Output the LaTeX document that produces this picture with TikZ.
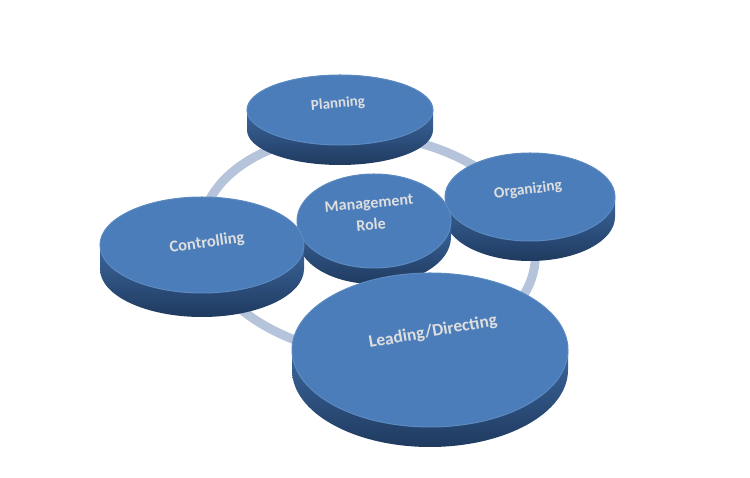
\documentclass[tikz,border=0pt]{standalone}
\usepackage{fontspec}
\setmainfont{Carlito}
\usepackage{tikz}
\usetikzlibrary{shapes.geometric}
\usetikzlibrary{positioning}
\usepackage{xcolor}
\definecolor{facebl}{HTML}{4A7DBA}
\definecolor{sidetop}{HTML}{3C679E}
\definecolor{sidebot}{HTML}{1F3A5F}
\definecolor{ringbl}{HTML}{B5C4DB}
\definecolor{txtcol}{HTML}{DEDEDE}

\begin{document}
\begin{tikzpicture}[x=1pt,y=1pt,
    side/.style={top color=sidetop, bottom color=sidebot},
    face/.style={ellipse, inner sep=0pt, fill=facebl, draw=facebl!90!white, line width=1pt},
    lbl/.style={text=txtcol, align=center, inner sep=0pt}]
  \useasboundingbox (0,0) rectangle (750,478);
  \coordinate (hub) at (368,233);
  \draw[ringbl, line width=9pt, rotate around={-6:(hub)}] (hub) ellipse [x radius=168, y radius=110];

  \shade[side] (340,368) ++(-93,0) -- ++(0,-20) arc[start angle=180, end angle=360, x radius=93, y radius=35] -- ++(0,20) -- cycle;
  \node[face, minimum width=186, minimum height=70] (plan) at (340,368) {};
  \node[lbl, rotate=5, font=\bfseries\fontsize{15}{17}\selectfont] (plan-t) at ([shift={(-2,6)}]plan.center) {Planning};

  \shade[side] (530,281) ++(-85,0) -- ++(0,-20) arc[start angle=180, end angle=360, x radius=85, y radius=44] -- ++(0,20) -- cycle;
  \node[face, minimum width=170, minimum height=88] (org) at (530,281) {};
  \node[lbl, rotate=7, font=\bfseries\fontsize{15.5}{17}\selectfont] (org-t) at ([shift={(-2,7)}]org.center) {Organizing};

  \shade[side] (374,257) ++(-77,0) -- ++(0,-16) arc[start angle=180, end angle=360, x radius=77, y radius=47] -- ++(0,16) -- cycle;
  \node[face, minimum width=154, minimum height=94] (mgmt) at (374,257) {};
  \node[lbl, rotate=5, font=\bfseries\fontsize{16}{22}\selectfont] (mgmt-t) at ([shift={(-4,7)}]mgmt.center) {Management\\Role};

  \shade[side] (202,233) ++(-102,0) -- ++(0,-24) arc[start angle=180, end angle=360, x radius=102, y radius=48] -- ++(0,24) -- cycle;
  \node[face, minimum width=204, minimum height=96] (ctrl) at (202,233) {};
  \node[lbl, rotate=8, font=\bfseries\fontsize{16.5}{18}\selectfont] (ctrl-t) at ([shift={(5,2)}]ctrl.center) {Controlling};

  \shade[side] (430,128) ++(-138,0) -- ++(0,-20) arc[start angle=180, end angle=360, x radius=138, y radius=77] -- ++(0,20) -- cycle;
  \node[face, minimum width=276, minimum height=154] (lead) at (430,128) {};
  \node[lbl, rotate=10, font=\bfseries\fontsize{17.5}{19}\selectfont] (lead-t) at ([shift={(3,18)}]lead.center) {Leading/Directing};
\end{tikzpicture}
\end{document}
